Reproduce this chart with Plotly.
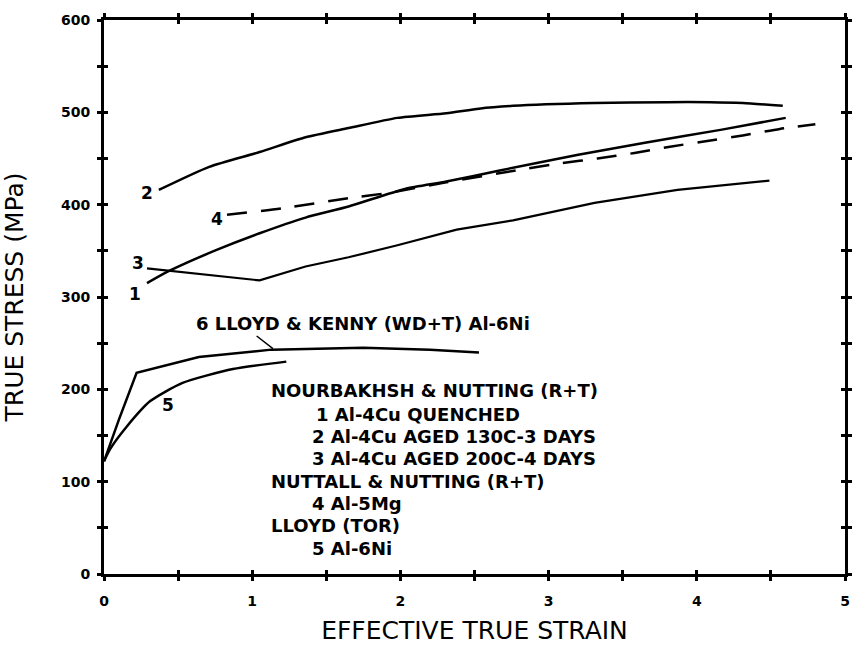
import plotly.graph_objects as go

# ---- data ----
c1_x = [0.29, 0.45, 0.76, 1.05, 1.36, 1.65, 2.03, 2.31, 2.67, 3.20, 3.65, 4.16, 4.60]
c1_y = [315, 329, 351, 369, 386, 398, 417, 425, 437, 454, 467, 481, 494]

c2_x = [0.37, 0.71, 1.05, 1.36, 1.65, 1.98, 2.31, 2.53, 2.76, 3.31, 3.80, 4.09, 4.31, 4.58]
c2_y = [416, 441, 457, 473, 483, 494, 499, 504, 507, 510, 511, 511, 510, 507]

c3_x = [0.29, 1.05, 1.36, 1.65, 1.98, 2.38, 2.76, 3.31, 3.87, 4.49]
c3_y = [331, 318, 333, 343, 356, 373, 383, 402, 416, 426]

c4_x = [0.83, 1.20, 1.65, 1.93, 2.30, 2.78, 3.09, 3.33, 3.58, 3.83, 4.07, 4.31, 4.56, 4.80]
c4_y = [389, 396, 407, 413, 424, 437, 445, 450, 456, 463, 469, 475, 482, 487]

c5_x = [0.0, 0.04, 0.15, 0.31, 0.53, 0.87, 1.23]
c5_y = [122, 135, 159, 187, 207, 222, 230]

c6_x = [0.0, 0.10, 0.22, 0.64, 1.13, 1.75, 2.20, 2.53]
c6_y = [122, 167, 218, 235, 243, 245, 243, 240]

y_tickvals = [0, 50, 100, 150, 200, 250, 300, 350, 400, 450, 500, 550, 600]
y_ticktext = ["0", "", "100", "", "200", "", "300", "", "400", "", "500", "", "600"]
x_tickvals = [0, 0.5, 1, 1.5, 2, 2.5, 3, 3.5, 4, 4.5, 5]
x_ticktext = ["0", "", "1", "", "2", "", "3", "", "4", "", "5"]

curve_labels = ["1", "2", "3", "4", "5"]
curve_label_x = [0.21, 0.29, 0.23, 0.76, 0.43]
curve_label_y = [303, 413, 337, 384, 183]

label6 = "6 LLOYD & KENNY (WD+T) Al-6Ni"
label6_pos = (0.61, 271)
leader6_from = (1.02, 259)
leader6_to = (1.14, 244)

legend_lines = [
    "NOURBAKHSH & NUTTING (R+T)",
    "1 Al-4Cu QUENCHED",
    "2 Al-4Cu AGED 130C-3 DAYS",
    "3 Al-4Cu AGED 200C-4 DAYS",
    "NUTTALL & NUTTING (R+T)",
    "4 Al-5Mg",
    "LLOYD (TOR)",
    "5 Al-6Ni",
]
legend_x = [1.11, 1.42, 1.39, 1.39, 1.11, 1.39, 1.11, 1.39]
legend_y = [199, 173, 149, 125, 100, 76, 52, 28]

FONT = "DejaVu Sans"
fig = go.Figure()

def line(x, y, w=2.5, dash="solid", shape="spline"):
    fig.add_trace(go.Scatter(x=x, y=y, mode="lines",
                             line=dict(color="black", width=w, dash=dash, shape=shape, smoothing=0.6),
                             showlegend=False, hoverinfo="skip"))

line(c1_x, c1_y)
line(c2_x, c2_y)
line(c3_x, c3_y, w=2.2, shape="linear")
line(c4_x, c4_y, dash="20px,14px")
line(c5_x, c5_y)
line(c6_x, c6_y, shape="linear")

# invisible trace to activate overlay axes (crossing ticks)
fig.add_trace(go.Scatter(x=[0], y=[0], xaxis="x2", yaxis="y2", mode="markers",
                         marker=dict(opacity=0), showlegend=False, hoverinfo="skip"))

ann = []
for t, x, y in zip(curve_labels, curve_label_x, curve_label_y):
    ann.append(dict(x=x, y=y, text=t, showarrow=False, xanchor="center", yanchor="middle",
                    font=dict(family=FONT, size=17, color="black", weight="bold")))
ann.append(dict(x=label6_pos[0], y=label6_pos[1], text=label6, showarrow=False,
                xanchor="left", yanchor="middle",
                font=dict(family=FONT, size=18, color="black", weight="bold")))
ann.append(dict(x=leader6_to[0], y=leader6_to[1], ax=leader6_from[0], ay=leader6_from[1],
                axref="x", ayref="y", text="", showarrow=True, arrowhead=0,
                arrowwidth=1.5, arrowcolor="black"))
for t, x, y in zip(legend_lines, legend_x, legend_y):
    ann.append(dict(x=x, y=y, text=t, showarrow=False, xanchor="left", yanchor="middle",
                    font=dict(family=FONT, size=18, color="black", weight="bold")))

axis_common = dict(showgrid=False, zeroline=False, showline=True, linecolor="black",
                   linewidth=3, tickcolor="black", tickwidth=2.5, ticklen=4)

fig.update_layout(
    width=856, height=652,
    margin=dict(l=104, r=4, t=20, b=78),
    paper_bgcolor="white", plot_bgcolor="white",
    showlegend=False,
    annotations=ann,
    xaxis=dict(range=[0, 5], tickvals=x_tickvals, ticktext=x_ticktext, ticks="outside",
               mirror="ticks", ticklabelstandoff=8,
               tickfont=dict(family=FONT, size=14, color="black", weight="bold"),
               title=dict(text="EFFECTIVE TRUE STRAIN", standoff=14,
                          font=dict(family=FONT, size=25, color="black")),
               **axis_common),
    yaxis=dict(range=[0, 600], tickvals=y_tickvals, ticktext=y_ticktext, ticks="outside",
               mirror="ticks", ticklabelstandoff=4,
               tickfont=dict(family=FONT, size=14, color="black", weight="bold"),
               title=dict(text="TRUE STRESS (MPa)", standoff=34,
                          font=dict(family=FONT, size=25, color="black")),
               **axis_common),
    xaxis2=dict(overlaying="x", matches="x", range=[0, 5], tickvals=x_tickvals, ticks="inside",
                mirror="ticks", showticklabels=False, anchor="y2", **axis_common),
    yaxis2=dict(overlaying="y", matches="y", range=[0, 600], tickvals=y_tickvals, ticks="inside",
                mirror="ticks", showticklabels=False, anchor="x2", **axis_common),
)

fig.write_html("out.html")
